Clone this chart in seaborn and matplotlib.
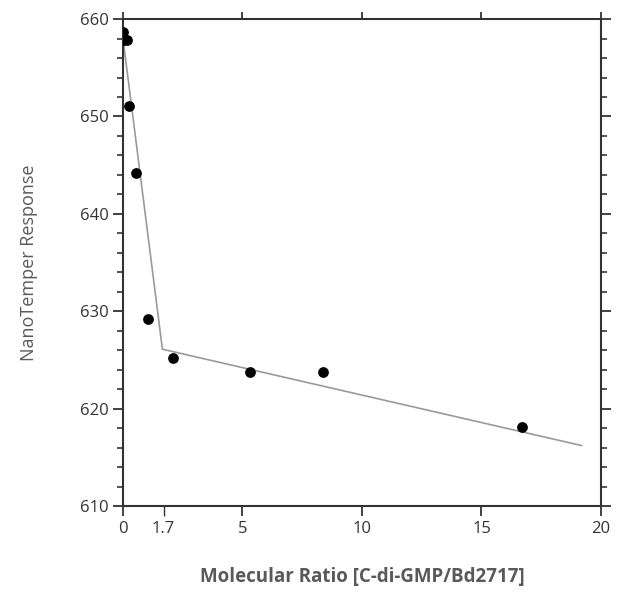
import matplotlib
matplotlib.use("Agg")
import matplotlib.pyplot as plt
from matplotlib.ticker import MultipleLocator
import seaborn as sns
import pandas as pd

# measured points
ratio = [0.0, 0.05, 0.15, 0.25, 0.55, 1.05, 2.1, 5.3, 8.35, 16.7]
response = [658.7, 657.9, 657.8, 651.1, 644.2, 629.2, 625.2, 623.8, 623.8, 618.1]

# two-segment fit line
fit_x = [0.0, 1.65, 19.2]
fit_y = [658.0, 626.1, 616.2]

xticks = [0, 1.7, 5, 10, 15, 20]
xticklabels = ["0", "1.7", "5", "10", "15", "20"]
top_ticks = [0, 5, 10, 15, 20]

df = pd.DataFrame({"ratio": ratio, "response": response})
fit = pd.DataFrame({"x": fit_x, "y": fit_y})

sns.set_style("ticks")
plt.rcParams['font.family'] = ['Open Sans', 'DejaVu Sans']

fig = plt.figure(figsize=(6.22, 5.96), dpi=100)
ax = fig.add_axes([0.1977, 0.151, 0.7685, 0.817])

sns.lineplot(data=fit, x="x", y="y", ax=ax, color="#9a9a9a", linewidth=1.2, sort=False)
sns.scatterplot(data=df, x="ratio", y="response", ax=ax, color="black", s=60,
                edgecolor="black", linewidth=0, zorder=3)

ax.set_xlim(0, 20)
ax.set_ylim(610, 660)
ax.set_xticks(xticks)
ax.set_xticklabels(xticklabels)
ax.yaxis.set_major_locator(MultipleLocator(10))
ax.yaxis.set_minor_locator(MultipleLocator(2))

for s in ax.spines.values():
    s.set_visible(True)
    s.set_color("#333333")
    s.set_linewidth(1.5)

ax.tick_params(axis="both", which="major", direction="out", length=7, width=1.3,
               color="#333333", labelsize=12, labelcolor="#333333")
ax.tick_params(axis="y", which="minor", direction="out", length=4, width=1.2, color="#333333")
ax.tick_params(axis="y", which="both", right=True)

# the 1.7 tick is drawn lighter
ax.get_xticklines()[2].set_color("#888888")
ax.get_xticklines()[2].set_markeredgewidth(1.0)

top = ax.secondary_xaxis("top")
top.set_xticks(top_ticks)
top.set_xticklabels([])
top.tick_params(direction="out", length=5, width=1.3, color="#333333")
top.spines["top"].set_visible(False)

ax.set_xlabel("Molecular Ratio [C-di-GMP/Bd2717]", fontsize=13.5, fontweight="bold",
              color="#595959", labelpad=22)
ax.set_ylabel("NanoTemper Response", fontsize=13, fontweight="medium",
              color="#595959", labelpad=30)

fig.savefig("out.png", dpi=100)
